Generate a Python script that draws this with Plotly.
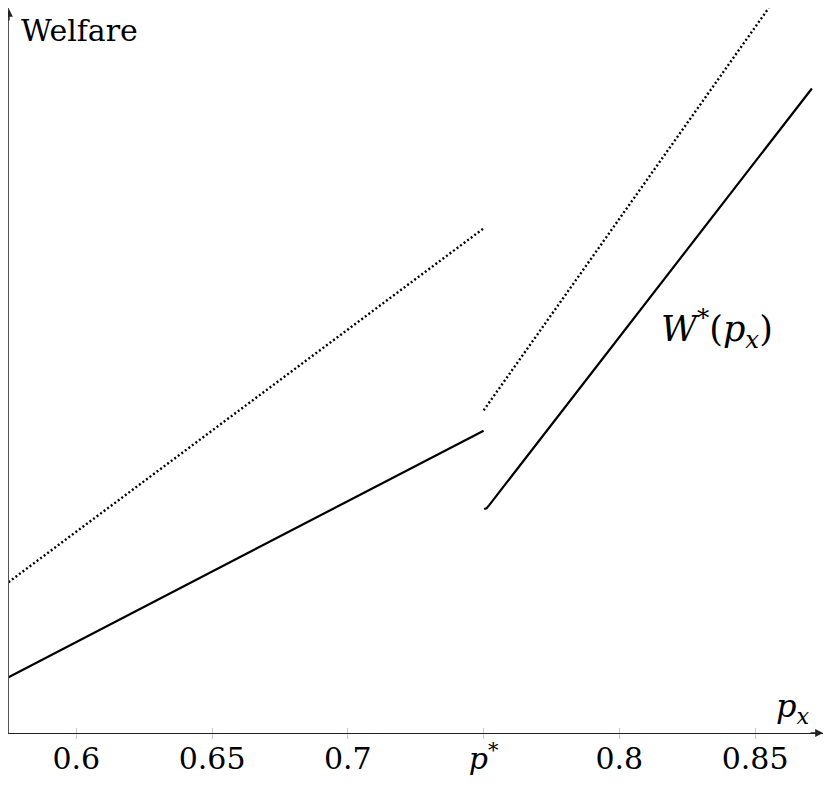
import plotly.graph_objects as go

# x 위치 (p_x), y 값 (임의 단위의 후생)
low_x = [0.575, 0.75]
low_solid = [0.77, 4.17]
low_dotted = [2.08, 6.96]

high_dot_x = [0.75, 0.855]
high_dotted = [4.45, 10.0]

high_solid_x = [0.7502, 0.7511, 0.7520, 0.8709]
high_solid = [3.09, 3.10, 3.14, 8.89]

tick_vals = [0.6, 0.65, 0.7, 0.75, 0.8, 0.85]
tick_text = ["0.6", "0.65", "0.7", "<i>p</i><sup>*</sup>", "0.8", "0.85"]

serif = "DejaVu Serif"
black = "#000000"

fig = go.Figure()

fig.add_trace(go.Scatter(x=low_x, y=low_dotted, mode="lines",
                         line=dict(color=black, width=2.4, dash="2px,2.4px")))
fig.add_trace(go.Scatter(x=low_x, y=low_solid, mode="lines",
                         line=dict(color=black, width=2.2)))
fig.add_trace(go.Scatter(x=high_dot_x, y=high_dotted, mode="lines",
                         line=dict(color=black, width=2.4, dash="2px,2.4px")))
fig.add_trace(go.Scatter(x=high_solid_x, y=high_solid, mode="lines",
                         line=dict(color=black, width=2.2)))

# 눈금 반대쪽 (축 위로 올라가는 부분)
fig.add_trace(go.Scatter(x=[None], y=[None], xaxis="x2", showlegend=False))

fig.update_layout(
    width=832, height=797,
    margin=dict(l=1, r=17, t=0, b=72),
    plot_bgcolor="white", paper_bgcolor="white",
    showlegend=False,
    font=dict(family=serif, color=black, size=30),
    xaxis=dict(range=[0.5752, 0.875], tickvals=tick_vals, ticktext=tick_text,
               ticks="outside", ticklen=5, tickcolor="#c8c8c8", tickwidth=1,
               ticklabelstandoff=-6,
               showline=True, linecolor="#222222", linewidth=1.3,
               showgrid=False, zeroline=False,
               tickfont=dict(family=serif, size=30, color=black)),
    xaxis2=dict(range=[0.5752, 0.875], overlaying="x", anchor="y", side="bottom",
                tickvals=tick_vals, showticklabels=False,
                ticks="inside", ticklen=5, tickcolor="#c8c8c8", tickwidth=1,
                showline=False, showgrid=False, zeroline=False),
    yaxis=dict(range=[0, 10], showticklabels=False, ticks="",
               showline=True, linecolor="#555555", linewidth=1.3,
               showgrid=False, zeroline=False),
    annotations=[
        dict(xref="paper", yref="paper", x=1, y=0, ax=-14, ay=0,
             showarrow=True, arrowhead=2, arrowsize=1.2, arrowwidth=1.3, arrowcolor="#222222", text=""),
        dict(xref="paper", yref="paper", x=0, y=1, ax=0, ay=14,
             showarrow=True, arrowhead=2, arrowsize=1.2, arrowwidth=1.3, arrowcolor="#222222", text=""),
        dict(xref="paper", yref="paper", x=0, y=1, xanchor="left", yanchor="top",
             xshift=10, yshift=-3, showarrow=False,
             text="Welfare", font=dict(family=serif, size=30, color=black)),
        dict(xref="paper", yref="paper", x=1, y=0, xanchor="right", yanchor="bottom",
             xshift=-12, yshift=2, showarrow=False,
             text="<i>p<sub>x</sub></i>", font=dict(family=serif, size=32, color=black)),
        dict(x=0.836, y=5.58, showarrow=False,
             text="<i>W</i><sup>*</sup>(<i>p<sub>x</sub></i>)", font=dict(family=serif, size=35, color=black)),
    ],
)

fig.write_html("out.html")
